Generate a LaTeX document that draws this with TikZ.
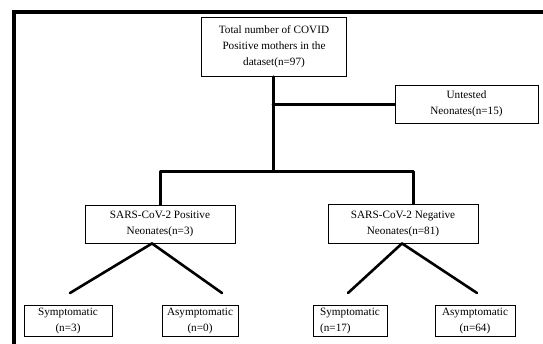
\documentclass[tikz,border=0pt]{standalone}
\usepackage{fontspec}
\setmainfont{Liberation Serif}
\begin{document}
\begin{tikzpicture}[x=1pt,y=-1pt,
  box/.style={draw=black, line width=0.9pt, fill=white, inner sep=0pt,
    align=center, font=\fontsize{11.2}{16}\selectfont},
  conn/.style={draw=black, line width=3pt, line cap=round, line join=round},
  diag/.style={draw=black, line width=2.6pt, line cap=round}]
\useasboundingbox (0,0) rectangle (543,343);
\begin{scope}
\clip (0,0) rectangle (543,343);
\draw[line width=4pt] (13.5,12) rectangle (580,380);
\end{scope}
% nodes
\node[box, minimum width=145pt, minimum height=59pt] (top) at (274,47)
  {Total number of COVID\\Positive mothers in the\\dataset(n=97)};
\node[box, minimum width=143pt, minimum height=38pt] (unt) at (466.5,104)
  {Untested\\Neonates(n=15)};
\node[box, minimum width=150pt, minimum height=38pt] (pos) at (160,224)
  {SARS-CoV-2 Positive\\Neonates(n=3)};
\node[box, minimum width=150pt, minimum height=39pt] (neg) at (403,223.5)
  {SARS-CoV-2 Negative\\Neonates(n=81)};
\node[box, minimum width=88pt, minimum height=31pt] (s3) at (68,320.5)
  {Symptomatic\\(n=3)};
\node[box, minimum width=76pt, minimum height=31pt] (a0) at (200,320.5)
  {Asymptomatic\\(n=0)};
\node[box, minimum width=74pt, minimum height=31pt, align=left] (s17) at (350,320.5)
  {Symptomatic\\(n=17)};
\node[box, minimum width=80pt, minimum height=31pt] (a64) at (475,320.5)
  {Asymptomatic\\(n=64)};
% coordinates
\coordinate (tb) at ([xshift=-1pt]top.south);
\coordinate (mid) at (tb |- 0,171);
\coordinate (ub) at (tb |- unt.west);
\coordinate (lb) at (pos.north |- mid);
\coordinate (nt) at ([xshift=10pt]neg.north);
\coordinate (rb) at (nt |- mid);
\coordinate (pa) at ([xshift=-8pt]pos.south);
\coordinate (na) at ([xshift=-1pt]neg.south);
\coordinate (e1) at (70,293);
\coordinate (e2) at (222,293);
\coordinate (e3) at (348,293);
\coordinate (e4) at (477,293);
% connectors
\draw[conn] (tb) -- (mid);
\draw[conn] (ub) -- (unt.west);
\draw[conn] (pos.north) -- (lb) -- (rb) -- (nt);
\draw[diag] (pa) -- (e1);
\draw[diag] (pa) -- (e2);
\draw[diag] (na) -- (e3);
\draw[diag] (na) -- (e4);
\end{tikzpicture}
\end{document}
